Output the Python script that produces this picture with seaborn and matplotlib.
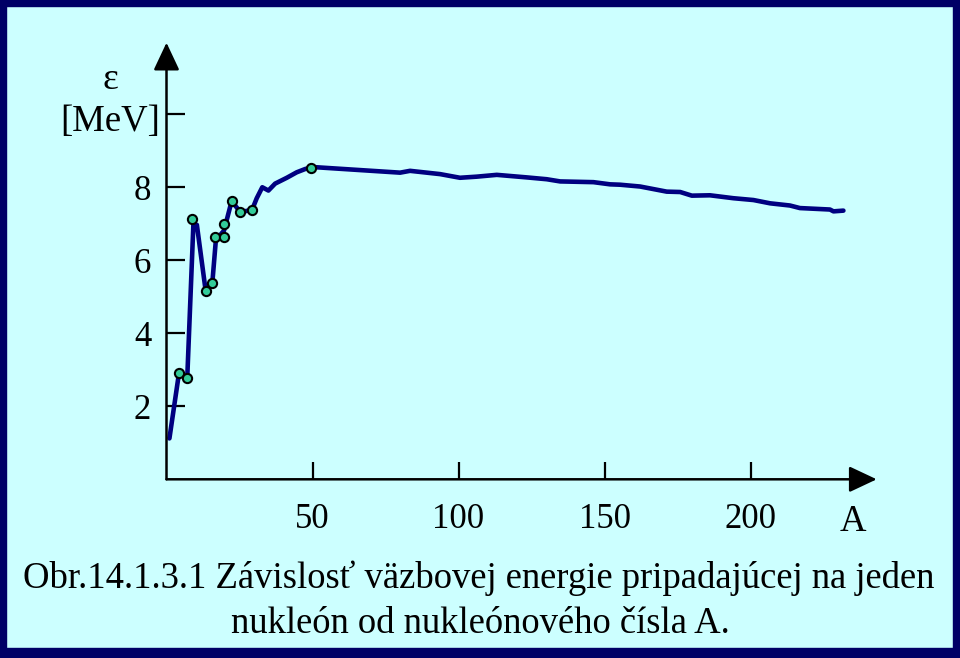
import matplotlib
matplotlib.use("Agg")
import matplotlib.pyplot as plt
import matplotlib.patches as mpatches
import seaborn as sns
import pandas as pd

# ---- data ----
line_A = [1.0, 4.3, 7.1, 9.2, 10.4, 13.4, 15.7, 16.9, 19.7, 19.7, 22.3, 25.3, 29.3,
          30.9, 32.8, 34.9, 37.2, 41.2, 44.6, 47.5, 49.4, 50.9, 80.0, 83.4, 93.7,
          100.5, 106.2, 113.1, 123.4, 130.2, 134.8, 146.2, 151.9, 155.3, 162.2,
          171.3, 175.9, 179.9, 186.1, 194.1, 201.0, 206.7, 213.5, 216.9, 227.2,
          228.4, 231.8]
line_eps = [1.12, 2.92, 2.77, 6.97, 6.97, 5.17, 5.39, 6.55, 6.64, 6.99, 7.62, 7.32, 7.38,
            7.70, 8.00, 7.91, 8.10, 8.26, 8.41, 8.50, 8.54, 8.55, 8.40, 8.45, 8.36,
            8.26, 8.29, 8.34, 8.27, 8.22, 8.16, 8.14, 8.08, 8.07, 8.02,
            7.88, 7.87, 7.77, 7.78, 7.70, 7.65, 7.56, 7.50, 7.43, 7.39,
            7.34, 7.36]

pts_A = [4.3, 7.1, 8.7, 13.4, 15.7, 16.7, 19.7, 19.7, 22.3, 25.3, 29.3, 49.4]
pts_eps = [2.92, 2.77, 7.13, 5.17, 5.39, 6.64, 6.64, 6.99, 7.62, 7.32, 7.38, 8.54]

x_ticks = [50, 100, 150, 200]
y_ticks = [2, 4, 6, 8, 10]
y_ticklabels = ["2", "4", "6", "8", ""]

caption1 = "Obr.14.1.3.1 Závislosť väzbovej energie pripadajúcej na jeden"
caption2 = "nukleón od nukleónového čísla A."

df_line = pd.DataFrame({"A": line_A, "eps": line_eps})
df_pts = pd.DataFrame({"A": pts_A, "eps": pts_eps})

bg = "#CCFFFF"
navy = "#000080"
frame = "#000066"

sns.set_theme(style="white")
plt.rcParams["font.family"] = ["Liberation Serif", "DejaVu Serif"]
plt.rcParams["text.color"] = "black"

W, H = 960, 658
fig = plt.figure(figsize=(W / 100, H / 100), dpi=100)
fig.patch.set_facecolor(bg)

# axes placed so that the origin sits where the reference has it
x0, x1 = 166.5, 876.7
y0, y1 = 479.3, 42.7
ax = fig.add_axes([x0 / W, (H - y0) / H, (x1 - x0) / W, (y0 - y1) / H])
ax.set_facecolor("none")
ax.set_xlim(0, 243.2)
ax.set_ylim(0, 11.96)

sns.lineplot(data=df_line, x="A", y="eps", sort=False, color=navy, linewidth=3.3,
             ax=ax, zorder=3)
sns.scatterplot(data=df_pts, x="A", y="eps", color="#33CC99", edgecolor="black",
                linewidth=1.5, s=44, ax=ax, zorder=4)

for s in ax.spines.values():
    s.set_visible(False)

# axis lines with arrow heads
arrow = dict(arrowstyle="-|>,head_length=17,head_width=8", mutation_scale=1,
             color="black", lw=1.8, shrinkA=0, shrinkB=0)
ax.annotate("", xy=(1, 0), xytext=(0, 0), xycoords="axes fraction",
            arrowprops=arrow, annotation_clip=False)
ax.annotate("", xy=(0, 1), xytext=(0, 0), xycoords="axes fraction",
            arrowprops=arrow, annotation_clip=False)

ax.set_xticks(x_ticks)
ax.set_xticklabels([str(t) for t in x_ticks])
ax.set_yticks(y_ticks)
ax.set_yticklabels(y_ticklabels)
ax.tick_params(axis="x", direction="in", length=12, width=1.6, pad=17,
               labelsize=25, colors="black", bottom=True)
ax.tick_params(axis="y", direction="in", length=13, width=1.6, pad=11,
               labelsize=25, colors="black", left=True)
ax.set_xlabel("")
ax.set_ylabel("")

# axis titles
fig.text(110 / W, 1 - 80 / H, "ε", ha="center", va="center", fontsize=27)
fig.text(110 / W, 1 - 122 / H, "[MeV]", ha="center", va="center", fontsize=26.5)
fig.text(853 / W, 1 - 522 / H, "A", ha="center", va="center", fontsize=26.5)

# caption
fig.text(479 / W, 1 - 578 / H, caption1, ha="center", va="center", fontsize=26.4)
fig.text(480 / W, 1 - 624 / H, caption2, ha="center", va="center", fontsize=26.4)

# dark frame round the picture
for rx, ry, rw, rh in [(0, 0, 6, H), (W - 7, 0, 7, H), (0, 0, W, 6), (0, H - 10, W, 10)]:
    fig.patches.append(mpatches.Rectangle((rx / W, 1 - (ry + rh) / H), rw / W, rh / H,
                                          transform=fig.transFigure, color=frame,
                                          zorder=10))

fig.savefig("out.png", dpi=100, facecolor=bg)
